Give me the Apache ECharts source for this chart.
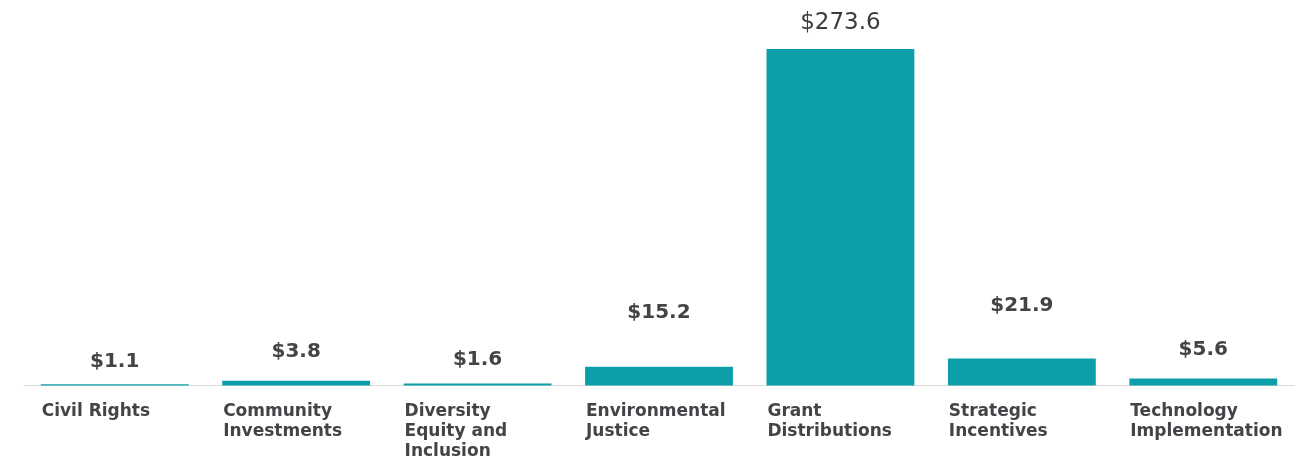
<!DOCTYPE html>
<html>
<head>
<meta charset="utf-8">
<title>Spending by program area</title>
<script src="https://cdn.jsdelivr.net/npm/echarts@6/dist/echarts.min.js"></script>
<style>
  html, body { margin: 0; padding: 0; background: #ffffff; }
  #chart { width: 1300px; height: 460px; }
</style>
</head>
<body>
<div id="chart"></div>
<script>
// Program areas (x axis) and amounts in $ millions
const categories = [
  'Civil Rights',
  'Community\nInvestments',
  'Diversity\nEquity and\nInclusion',
  'Environmental\nJustice',
  'Grant\nDistributions',
  'Strategic\nIncentives',
  'Technology\nImplementation'
];
const amounts = [1.1, 3.8, 1.6, 15.2, 273.6, 21.9, 5.6];

// Gap (px) between each bar top and its value label
const labelLift = [12, 19, 14, 44, 14, 43, 19];

const TEAL = '#0c9fa9';
const TEXT = '#444448';

const barData = amounts.map((v, i) => {
  const item = { value: v, label: { distance: labelLift[i] } };
  if (v === Math.max(...amounts)) {
    item.label.fontFamily = '"DejaVu Sans", sans-serif';
    item.label.fontWeight = 'normal';
    item.label.fontSize = 23;
    item.label.color = '#3c3c3c';
  }
  return item;
});

const chart = echarts.init(document.getElementById('chart'), null, { renderer: 'canvas' });
chart.setOption({
  animation: false,
  backgroundColor: '#ffffff',
  grid: { left: 24, right: 6, top: 49, bottom: 70, containLabel: false },
  xAxis: {
    type: 'category',
    data: categories,
    axisLine: { show: true, lineStyle: { color: '#dadada', width: 1 } },
    axisTick: { show: false },
    axisLabel: {
      interval: 0,
      margin: 16,
      formatter: (v) => '{c|' + v + '}',
      rich: {
        c: {
          width: 146,
          align: 'left',
          fontFamily: '"DejaVu Sans", sans-serif',
          fontWeight: 'bold',
          fontSize: 17,
          lineHeight: 20,
          color: TEXT
        }
      }
    }
  },
  yAxis: {
    type: 'value',
    show: false,
    min: 0,
    max: 'dataMax',
    splitLine: { show: false }
  },
  series: [{
    type: 'bar',
    data: barData,
    barCategoryGap: '18.5%',
    itemStyle: { color: TEAL },
    label: {
      show: true,
      position: 'top',
      formatter: (p) => '$' + p.value,
      fontFamily: '"DejaVu Sans", sans-serif',
      fontWeight: 'bold',
      fontSize: 20,
      color: TEXT
    }
  }]
});
</script>
</body>
</html>
